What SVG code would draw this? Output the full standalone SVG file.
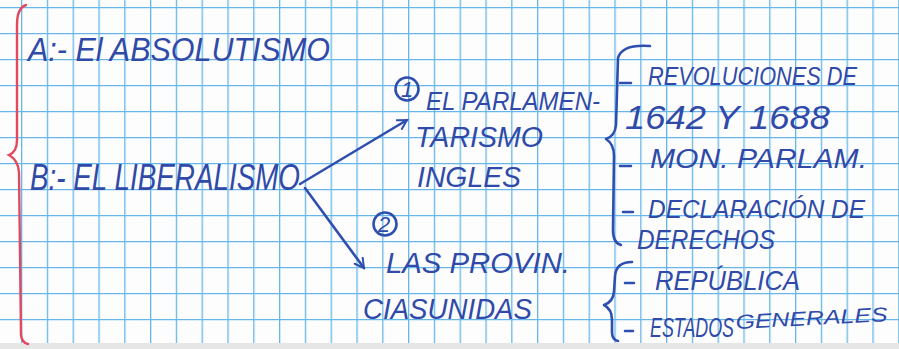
<svg xmlns="http://www.w3.org/2000/svg" width="899" height="349" viewBox="0 0 899 349">
<defs>
<pattern id="grid" x="21" y="7" width="25.8" height="26" patternUnits="userSpaceOnUse">
<path d="M0.5 0 V26 M0 0.5 H25.8" stroke="#66b6ea" stroke-width="1.6" fill="none"/>
</pattern>
<marker id="ah" viewBox="0 0 12 12" refX="10" refY="6" markerWidth="12" markerHeight="12" markerUnits="userSpaceOnUse" orient="auto">
<path d="M1 1 L10 6 L1 11" fill="none" stroke="#2f4fb0" stroke-width="2" stroke-linecap="round"/>
</marker>
<style>
.ink{font-family:"Liberation Sans",Arial,sans-serif;font-style:italic;fill:#2f4aa8;}
.pen{fill:none;stroke:#2f4fb0;stroke-width:2.6;stroke-linecap:round;stroke-linejoin:round;}
.red{fill:none;stroke:#e2485e;stroke-width:2.4;stroke-linecap:round;}
</style>
</defs>
<rect width="899" height="349" fill="#fdfdfd"/>
<rect width="899" height="349" fill="url(#grid)"/>
<rect x="0" y="343" width="899" height="6" fill="#e6e6e6"/>

<g id="margin-brace">
<path class="red" d="M26 5 Q17 8 17 25 L17 140 Q17 152 9 155 Q18 160 19 172 L21 335 Q22 343 28 344"/>
</g>

<g id="node-a">
<text class="ink" x="28" y="61" font-size="34" textLength="302" lengthAdjust="spacingAndGlyphs">A:- El ABSOLUTISMO</text>
</g>

<g id="node-b">
<text class="ink" x="30" y="190" font-size="37" textLength="270" lengthAdjust="spacingAndGlyphs">B:- EL LIBERALISMO</text>
</g>

<g id="node-1">
<circle cx="407" cy="89" r="11.5" class="pen" stroke-width="2"/>
<text class="ink" x="401" y="97" font-size="22">1</text>
<text class="ink" x="426" y="110" font-size="25" textLength="174" lengthAdjust="spacingAndGlyphs">EL PARLAMEN-</text>
<text class="ink" x="415" y="147" font-size="30" textLength="128" lengthAdjust="spacingAndGlyphs">TARISMO</text>
<text class="ink" x="417" y="187" font-size="30" textLength="104" lengthAdjust="spacingAndGlyphs">INGLES</text>
</g>

<g id="node-2">
<circle cx="385" cy="224" r="11.5" class="pen" stroke-width="2"/>
<text class="ink" x="378" y="232" font-size="22">2</text>
<text class="ink" x="386" y="273" font-size="30" textLength="184" lengthAdjust="spacingAndGlyphs">LAS PROVIN.</text>
<text class="ink" x="363" y="319" font-size="30" textLength="169" lengthAdjust="spacingAndGlyphs">CIASUNIDAS</text>
</g>

<g id="node-3">
<path class="pen" d="M650 46 Q622 44 618 58 L616 125 Q615 136 606 139 Q614 144 614 156 L613 230 Q613 243 621 245"/>
<path class="pen" d="M620 83 H631 M620 166 H631 M623 212 H633"/>
<text class="ink" x="648" y="85" font-size="26" textLength="209" lengthAdjust="spacingAndGlyphs">REVOLUCIONES DE</text>
<text class="ink" x="625" y="129" font-size="34" textLength="205" lengthAdjust="spacingAndGlyphs">1642 Y 1688</text>
<text class="ink" x="650" y="168" font-size="28" textLength="217" lengthAdjust="spacingAndGlyphs">MON. PARLAM.</text>
<text class="ink" x="648" y="218" font-size="26" textLength="217" lengthAdjust="spacingAndGlyphs">DECLARACIÓN DE</text>
<text class="ink" x="637" y="249" font-size="28" textLength="138" lengthAdjust="spacingAndGlyphs">DERECHOS</text>
</g>

<g id="node-4">
<path class="pen" d="M632 262 Q616 262 615 276 L614 292 Q613 302 604 305 Q612 309 612 320 L612 332 Q612 340 618 341"/>
<path class="pen" d="M625 283 H634 M625 331 H633"/>
<text class="ink" x="655" y="290" font-size="28" textLength="145" lengthAdjust="spacingAndGlyphs">REPÚBLICA</text>
<text class="ink" x="650" y="337" font-size="28" textLength="84" lengthAdjust="spacingAndGlyphs">ESTADOS</text>
<text class="ink" x="736" y="329" font-size="20" textLength="152" lengthAdjust="spacingAndGlyphs" transform="rotate(-3 736 329)">GENERALES</text>
</g>

<g id="connectors">
<path class="pen" stroke-width="2" d="M300 184 L407 120" marker-end="url(#ah)"/>
<path class="pen" stroke-width="2" d="M305 188 L364 268" marker-end="url(#ah)"/>
</g>
</svg>
